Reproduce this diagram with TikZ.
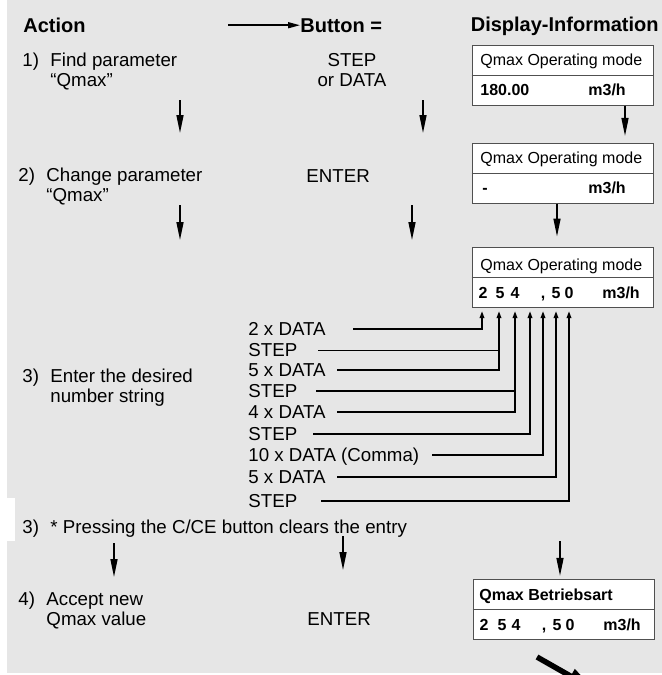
\documentclass[tikz,border=0pt]{standalone}
\usepackage{fontspec}
\setmainfont{Liberation Sans}
\usetikzlibrary{arrows.meta}
\definecolor{panel}{HTML}{E6E6E6}
\definecolor{frame}{HTML}{505050}
\newcommand{\nr}[1]{\makebox[1.5em][l]{#1}}

\begin{document}
\begin{tikzpicture}[x=0.5pt,y=-0.5pt,>={Triangle[length=9pt,width=3.5pt]},
  txt/.style={font=\fontsize{9.35pt}{9.75pt}\selectfont,inner sep=0pt,anchor=base west,align=left},
  head/.style={font=\fontsize{10pt}{12pt}\selectfont\bfseries,inner sep=0pt,anchor=base west},
  disp/.style={draw=frame,fill=white,line width=0.5pt,minimum width=90.5pt,minimum height=30pt,inner sep=0pt},
  dtxt/.style={font=\fontsize{8pt}{9pt}\selectfont,inner sep=0pt,anchor=base west},
  dnum/.style={dtxt,font=\fontsize{8pt}{9pt}\selectfont\bfseries},
  key/.style={txt,anchor=west,text height=6.7pt,text depth=0pt},
  down/.style={->,line width=0.75pt},
  feed/.style={line width=1pt},
  up/.style={feed,-{Triangle[length=3.5pt,width=2.2pt]}}]

  \useasboundingbox (0,0) rectangle (662,675);
  \fill[white] (0,0) rectangle (662,675);
  \fill[panel] (7,0) rectangle (662,673);
  \fill[white] (0,498) rectangle (15,541);

  \node[head] (action) at (23,32) {Action};
  \node[head] (button) at (300,32) {Button =};
  \node[head,anchor=base east] (info) at (659,31) {Display-Information};
  \coordinate (hd) at (228,0);
  \draw[line width=0.75pt,-{Triangle[length=6pt,width=3pt]}] (button.west -| hd) -- (button.west);

  \node[txt] (act1) at (22,86) {\nr{1)}Find parameter\\\nr{}“Qmax”};
  \node[txt,anchor=base,align=center] (btn1) at (352,86) {STEP\\or DATA};
  \node[disp] (b1) at (562.5,75) {};
  \draw[frame,line width=0.5pt] (b1.west) -- (b1.east);
  \node[dtxt] (b1t) at (480,65) {Qmax Operating mode};
  \node[dnum] (b1v) at (480,95) {180.00};
  \node[dnum] (b1u) at (588,95) {m3/h};

  \coordinate (a1) at (180,100);
  \coordinate (a2) at (180,133);
  \coordinate (c1) at (423,100);
  \coordinate (c2) at (423,133);
  \draw[down] (a1) -- (a2);
  \draw[down] (c1) -- (c2);

  \node[txt] (act2) at (18,201) {\nr{2)}Change parameter\\\nr{}“Qmax”};
  \node[txt] (btn2) at (306,182) {ENTER};
  \node[disp] (b2) at (562.5,173) {};
  \draw[frame,line width=0.5pt] (b2.west) -- (b2.east);
  \node[dtxt] (b2t) at (480,163) {Qmax Operating mode};
  \node[dnum] (b2v) at (482,193) {-};
  \node[dnum] (b2u) at (588,193) {m3/h};
  \draw[down,shorten >=3.3pt] (b1.south -| 625,0) -- (b2.north -| 625,0);

  \coordinate (a3) at (180,205);
  \coordinate (a4) at (180,240);
  \coordinate (c3) at (412,205);
  \coordinate (c4) at (412,240);
  \draw[down] (a3) -- (a4);
  \draw[down] (c3) -- (c4);

  \node[disp] (b3) at (562.5,277) {};
  \draw[frame,line width=0.5pt] (b3.west) -- (b3.east);
  \node[dtxt] (b3t) at (480,270) {Qmax Operating mode};
  \foreach \d/\x in {2/483,5/500,4/515,{,}/543,5/556,0/569}
    \node[dnum,anchor=base] at (\x,298) {\d};
  \node[dnum] (b3u) at (602,298) {m3/h};
  \draw[down,shorten >=5pt] (b2.south -| 557,0) -- (b3.north -| 557,0);

  \node[txt] (act3) at (22,402) {\nr{3)}Enter the desired\\\nr{}number string};
  \node[key] (k1) at (248,329) {2 x DATA};
  \node[key] (k2) at (248,350) {STEP};
  \node[key] (k3) at (248,370) {5 x DATA};
  \node[key] (k4) at (248,391) {STEP};
  \node[key] (k5) at (248,412) {4 x DATA};
  \node[key] (k6) at (248,434) {STEP};
  \node[key] (k7) at (248,455) {10 x DATA (Comma)};
  \node[key] (k8) at (248,477) {5 x DATA};
  \node[key] (k9) at (248,501) {STEP};

  \coordinate (tips) at (0,311);
  \draw[up] (k1.east -| 353,0) -| (tips -| 482,0);
  \draw[line width=0.5pt] (k2.east -| 318,0) -- (k2.east -| 499,0);
  \draw[up] (k3.east -| 337,0) -| (tips -| 499,0);
  \draw[feed] (k4.east -| 316,0) -- (k4.east -| 515,0);
  \draw[up] (k5.east -| 337,0) -| (tips -| 515,0);
  \draw[up] (k6.east -| 313,0) -| (tips -| 530,0);
  \draw[up] (k7.east -| 432,0) -| (tips -| 543,0);
  \draw[up] (k8.east -| 337,0) -| (tips -| 556,0);
  \draw[up] (k9.east -| 321,0) -| (tips -| 569,0);

  \node[txt] (note) at (22,533) {\nr{3)}* Pressing the C/CE button clears the entry};
  \coordinate (a5) at (114,543);
  \coordinate (a6) at (114,577);
  \coordinate (c5) at (343,536);
  \coordinate (c6) at (343,570);
  \coordinate (d5) at (560,541);
  \draw[down] (a5) -- (a6);
  \draw[down] (c5) -- (c6);

  \node[txt] (act4) at (18,625) {\nr{4)}Accept new\\\nr{}Qmax value};
  \node[txt] (btn4) at (307,625) {ENTER};
  \node[disp] (b4) at (563.5,609) {};
  \draw[frame,line width=0.5pt] (b4.west) -- (b4.east);
  \node[dnum] (b4t) at (479,600) {Qmax Betriebsart};
  \foreach \d/\x in {2/484,5/502,4/516,{,}/544,5/557,0/570}
    \node[dnum,anchor=base] at (\x,630) {\d};
  \node[dnum] (b4u) at (603,630) {m3/h};
  \draw[down,shorten >=1.3pt] (d5) -- (b4.north -| d5);

  \coordinate (t1) at (537,657);
  \coordinate (t2) at (595,690);
  \begin{scope}
    \clip (0,0) rectangle (662,675);
    \draw[line width=2.75pt,-{Triangle[length=14pt,width=7.5pt]}] (t1) -- (t2);
  \end{scope}

\end{tikzpicture}
\end{document}
